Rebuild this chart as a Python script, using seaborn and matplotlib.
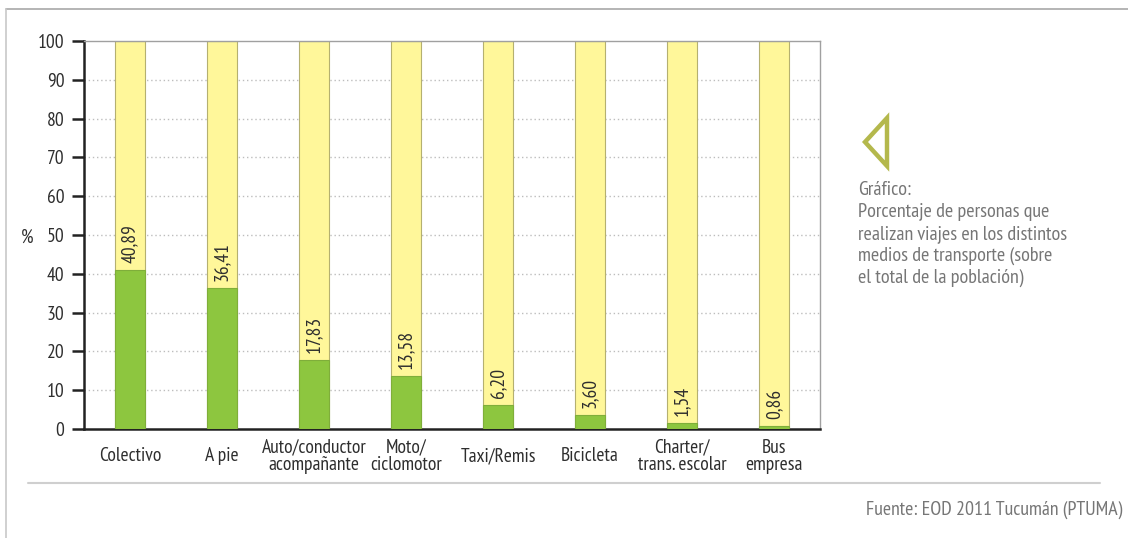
import matplotlib
matplotlib.use("Agg")
import matplotlib.pyplot as plt
from matplotlib.patches import Polygon
from matplotlib.lines import Line2D
import seaborn as sns
import pandas as pd

categorias = ["Colectivo", "A pie", "Auto/conductor\nacompañante", "Moto/\nciclomotor",
              "Taxi/Remis", "Bicicleta", "Charter/\ntrans. escolar", "Bus\nempresa"]
porcentajes = [40.89, 36.41, 17.83, 13.58, 6.20, 3.60, 1.54, 0.86]
total = [100] * len(categorias)
yticks = list(range(0, 101, 10))

df = pd.DataFrame({"medio": categorias, "pct": porcentajes, "total": total})

sns.set_theme(style="white")
plt.rcParams["font.family"] = ["PT Sans Narrow", "DejaVu Sans"]

VERDE = "#8dc63f"
AMARILLO = "#fff79a"
BORDE = "#b5b070"
TEXTO = "#2e2e2e"
GRIS = "#767676"

fig = plt.figure(figsize=(11.28, 5.38), dpi=100)
ax = fig.add_axes([84 / 1128, 1 - 429 / 538, (820 - 84) / 1128, (429 - 41) / 538])

sns.barplot(data=df, x="medio", y="total", color=AMARILLO, width=0.32,
            edgecolor=BORDE, linewidth=0.8, saturation=1, ax=ax, zorder=2)
sns.barplot(data=df, x="medio", y="pct", color=VERDE, width=0.32,
            edgecolor="#7fae3a", linewidth=0.8, saturation=1, ax=ax, zorder=3)

for i, v in enumerate(porcentajes):
    ax.text(i, v + 1.8, f"{v:.2f}".replace(".", ","), rotation=90, ha="center",
            va="bottom", fontsize=14, color=TEXTO, zorder=4)

ax.set_xlim(-0.5, len(categorias) - 0.5)
ax.set_ylim(0, 100)
ax.set_yticks(yticks)
ax.set_yticklabels([str(t) for t in yticks], fontsize=14, color=TEXTO)
for t in yticks[1:-1]:
    ax.axhline(t, color="#bdbdbd", lw=1, ls=(0, (1, 2)), zorder=1)

ax.set_xticks(range(len(categorias)))
ax.set_xticklabels(categorias, fontsize=14, color=TEXTO, linespacing=0.92)
for lab in ax.get_xticklabels():
    lab.set_va("center")
ax.tick_params(axis="x", which="major", length=0, pad=19.5)
ax.set_xticks([i - 0.5 for i in range(len(categorias) + 1)], minor=True)
ax.tick_params(axis="x", which="minor", length=8, width=1.8, color="#222222", direction="out")
ax.tick_params(axis="y", which="major", length=9, width=1.8, color="#222222",
               direction="out", left=True, pad=5)
ax.set_xlabel("")
ax.set_ylabel("")

for s in ("left", "bottom"):
    ax.spines[s].set_color("#222222")
    ax.spines[s].set_linewidth(1.8)
for s in ("top", "right"):
    ax.spines[s].set_color("#a0a0a0")
    ax.spines[s].set_linewidth(1)

fig.text(27 / 1128, 1 - 238 / 538, "%", fontsize=14, color=TEXTO, ha="center", va="center")

# marco exterior
fig.add_artist(Line2D([6 / 1128, 1], [1 - 9 / 538, 1 - 9 / 538], color="#a8a8a8", lw=1.2,
                      transform=fig.transFigure))
fig.add_artist(Line2D([6 / 1128, 6 / 1128], [0, 1 - 9 / 538], color="#c8c8c8", lw=1.2,
                      transform=fig.transFigure))
fig.add_artist(Line2D([28 / 1128, 1100 / 1128], [1 - 483 / 538, 1 - 483 / 538],
                      color="#cfcfcf", lw=1.5, transform=fig.transFigure))

# triángulo indicador
tri = Polygon([(887 / 1128, 1 - 118 / 538), (865 / 1128, 1 - 142 / 538),
               (887 / 1128, 1 - 166 / 538)], closed=True, fill=False,
              edgecolor="#b4b84c", lw=3.2, transform=fig.transFigure, joinstyle="miter")
fig.add_artist(tri)

fig.text(858 / 1128, 1 - 181 / 538,
         "Gráfico:\nPorcentaje de personas que\nrealizan viajes en los distintos\n"
         "medios de transporte (sobre\nel total de la población)",
         fontsize=14.5, color=GRIS, ha="left", va="top", linespacing=1.27)

fig.text(1122 / 1128, 1 - 510 / 538, "Fuente: EOD 2011 Tucumán (PTUMA)",
         fontsize=14.3, color=GRIS, ha="right", va="center")

fig.savefig("out.png", dpi=100, facecolor="white")
